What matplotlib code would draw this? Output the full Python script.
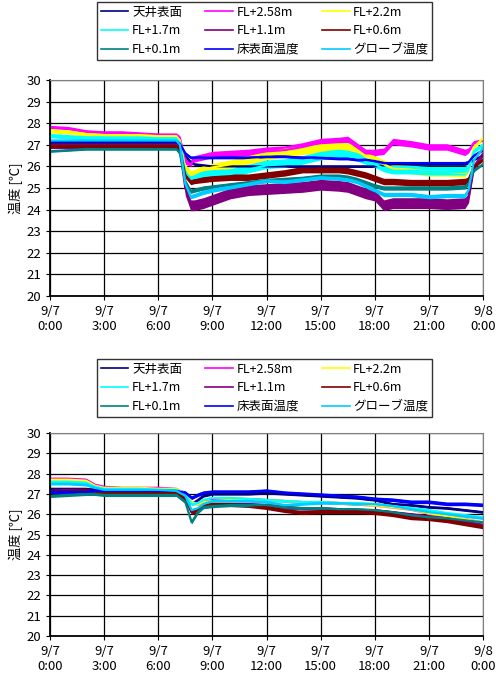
import matplotlib
matplotlib.use("Agg")
import matplotlib.pyplot as plt
import numpy as np

plt.rcParams['font.family'] = ['Noto Sans CJK JP', 'DejaVu Sans']

# 系列名と色
labels = ["天井表面", "FL+2.58m", "FL+2.2m", "FL+1.7m", "FL+1.1m",
          "FL+0.6m", "FL+0.1m", "床表面温度", "グローブ温度"]
colors = ["#000080", "#FF00FF", "#FFFF00", "#00FFFF", "#800080",
          "#800000", "#008080", "#0000FF", "#00CCFF"]

# 上段 (時刻[h])
t_top = [0, 1, 2, 3, 4, 5, 6, 7, 7.2, 7.5, 7.8, 8, 8.5, 9, 10, 11, 12, 13, 14,
         15, 16, 16.5, 17, 17.5, 18, 18.5, 19, 20, 21, 22, 23, 23.2, 23.5, 24]
top_ceiling = [27.1, 27.1, 27.1, 27.1, 27.1, 27.1, 27.1, 27.1, 27.0, 26.5, 26.2, 26.1, 26.05, 26.0, 26.0, 26.0, 26.0,
               26.0, 26.0, 26.0, 26.0, 26.0, 26.0, 26.0, 26.0, 26.05, 26.1, 26.1, 26.1, 26.1, 26.1, 26.15, 26.3, 26.5]
top_258 = [27.8, 27.75, 27.6, 27.55, 27.55, 27.5, 27.45, 27.45, 27.3, 26.2, 26.1, 26.3, 26.4, 26.5, 26.55, 26.6, 26.7,
           26.75, 26.9, 27.1, 27.15, 27.2, 26.9, 26.6, 26.6, 26.65, 27.1, 27.0, 26.85, 26.85, 26.6, 26.7, 27.1, 27.2]
top_22 = [27.65, 27.6, 27.5, 27.45, 27.45, 27.45, 27.4, 27.4, 27.2, 25.9, 25.6, 25.65, 25.85, 25.95, 26.1, 26.3, 26.5,
          26.65, 26.75, 26.85, 26.9, 26.9, 26.75, 26.45, 26.3, 26.1, 25.9, 25.85, 25.75, 25.75, 25.7, 25.9, 26.9, 27.3]
top_17 = [27.4, 27.35, 27.3, 27.3, 27.3, 27.3, 27.3, 27.3, 27.1, 25.7, 25.4, 25.45, 25.55, 25.6, 25.65, 25.85, 26.05,
          26.1, 26.25, 26.45, 26.55, 26.5, 26.4, 26.25, 26.1, 25.9, 25.8, 25.8, 25.75, 25.75, 25.75, 25.9, 26.7, 27.0]
top_11 = [27.0, 27.0, 27.0, 27.0, 27.0, 27.0, 27.0, 27.0, 26.8, 25.0, 24.3, 24.3, 24.4, 24.55, 24.85, 25.0, 25.05,
          25.1, 25.15, 25.25, 25.2, 25.15, 25.0, 24.85, 24.75, 24.3, 24.4, 24.4, 24.4, 24.35, 24.4, 24.6, 26.0, 26.6]
top_06 = [26.95, 26.95, 26.95, 26.95, 26.95, 26.95, 26.95, 26.95, 26.8, 25.6, 25.3, 25.35, 25.4, 25.45, 25.5, 25.5, 25.6,
          25.7, 25.85, 25.85, 25.85, 25.8, 25.7, 25.6, 25.45, 25.3, 25.3, 25.25, 25.25, 25.25, 25.3, 25.4, 26.0, 26.3]
top_01 = [26.7, 26.75, 26.8, 26.8, 26.8, 26.8, 26.8, 26.8, 26.6, 25.3, 24.85, 24.9, 25.0, 25.05, 25.15, 25.25, 25.35,
          25.4, 25.45, 25.55, 25.55, 25.5, 25.4, 25.25, 25.1, 25.0, 25.0, 25.0, 25.0, 25.0, 25.05, 25.2, 25.8, 26.1]
top_floor = [27.15, 27.15, 27.15, 27.15, 27.15, 27.15, 27.15, 27.15, 27.05, 26.6, 26.4, 26.4, 26.4, 26.4, 26.4, 26.4, 26.45,
             26.45, 26.4, 26.4, 26.35, 26.35, 26.3, 26.3, 26.25, 26.15, 26.15, 26.15, 26.15, 26.15, 26.15, 26.2, 26.5, 26.75]
top_globe = [27.2, 27.2, 27.2, 27.2, 27.2, 27.2, 27.2, 27.2, 27.0, 25.2, 24.6, 24.65, 24.8, 24.9, 25.05, 25.2, 25.35,
             25.3, 25.4, 25.5, 25.45, 25.4, 25.3, 25.1, 24.9, 24.7, 24.7, 24.7, 24.6, 24.65, 24.65, 24.9, 26.3, 26.85]
# ばらつき幅 (上側, 下側) と時間帯ごとの係数
top_noise_up = [0.05, 0.2, 0.2, 0.25, 0.15, 0.15, 0.1, 0.08, 0.1]
top_noise_dn = [0.05, 0.1, 0.2, 0.15, 0.35, 0.15, 0.1, 0.05, 0.1]
top_spread = [0.5, 0.5, 0.5, 0.5, 0.5, 0.5, 0.5, 0.5, 0.6, 1, 1, 1, 1, 1, 1, 1, 1,
              1, 1, 1, 1, 1, 1, 1, 1, 1, 1, 1, 1, 1, 1, 0.8, 0.5, 0.4]

# 下段
t_bot = [0, 1, 2, 2.5, 3, 4, 5, 6, 7, 7.5, 7.85, 8.2, 8.5, 9, 10, 11, 12, 13, 14,
         15, 16, 17, 18, 19, 20, 21, 22, 23, 24]
bot_ceiling = [27.25, 27.25, 27.25, 27.2, 27.2, 27.2, 27.2, 27.2, 27.15, 27.0, 26.5, 26.7, 26.9, 27.0, 27.0,
               27.0, 27.05, 27.0, 26.95, 26.9, 26.85, 26.8, 26.7, 26.5, 26.45, 26.35, 26.3, 26.2, 26.1]
bot_258 = [27.75, 27.75, 27.7, 27.45, 27.35, 27.3, 27.3, 27.3, 27.25, 27.0, 26.6, 26.5, 26.6, 26.7, 26.75,
           26.75, 26.7, 26.65, 26.6, 26.6, 26.55, 26.5, 26.45, 26.35, 26.25, 26.05, 25.9, 25.75, 25.6]
bot_22 = [27.7, 27.7, 27.65, 27.4, 27.3, 27.3, 27.3, 27.25, 27.25, 27.0, 26.6, 26.5, 26.6, 26.65, 26.7,
          26.7, 26.7, 26.65, 26.6, 26.6, 26.55, 26.5, 26.45, 26.35, 26.25, 26.05, 25.9, 25.75, 25.6]
bot_17 = [27.6, 27.6, 27.55, 27.35, 27.25, 27.25, 27.25, 27.2, 27.2, 27.0, 26.5, 26.55, 26.7, 26.8, 26.8,
          26.75, 26.7, 26.65, 26.6, 26.6, 26.55, 26.55, 26.5, 26.4, 26.3, 26.2, 26.05, 25.95, 25.85]
bot_11 = [27.15, 27.2, 27.2, 27.1, 27.05, 27.05, 27.05, 27.05, 27.05, 26.8, 26.1, 26.2, 26.4, 26.5, 26.5,
          26.5, 26.45, 26.35, 26.3, 26.3, 26.25, 26.2, 26.2, 26.1, 26.0, 25.9, 25.8, 25.65, 25.45]
bot_06 = [27.15, 27.15, 27.2, 27.1, 27.05, 27.05, 27.05, 27.05, 27.05, 26.8, 26.1, 26.2, 26.4, 26.5, 26.5,
          26.45, 26.35, 26.2, 26.1, 26.15, 26.15, 26.15, 26.1, 26.0, 25.85, 25.8, 25.7, 25.55, 25.4]
bot_01 = [26.9, 26.95, 27.0, 27.0, 26.95, 26.95, 26.95, 26.95, 26.95, 26.6, 25.6, 26.1, 26.35, 26.4, 26.45,
          26.45, 26.45, 26.35, 26.3, 26.3, 26.25, 26.25, 26.2, 26.1, 25.95, 25.85, 25.8, 25.7, 25.6]
bot_floor = [27.1, 27.1, 27.1, 27.15, 27.15, 27.15, 27.15, 27.15, 27.15, 27.05, 26.8, 26.95, 27.05, 27.1, 27.1,
             27.1, 27.15, 27.05, 27.0, 26.95, 26.9, 26.85, 26.75, 26.7, 26.6, 26.6, 26.5, 26.5, 26.45]
bot_globe = [27.5, 27.5, 27.45, 27.3, 27.2, 27.2, 27.2, 27.2, 27.15, 26.9, 26.2, 26.3, 26.5, 26.65, 26.65,
             26.65, 26.6, 26.45, 26.5, 26.55, 26.55, 26.5, 26.5, 26.4, 26.25, 26.1, 26.0, 25.9, 25.8]
bot_noise_up = [0.06, 0.06, 0.06, 0.07, 0.06, 0.06, 0.06, 0.1, 0.06]
bot_noise_dn = [0.06, 0.06, 0.06, 0.07, 0.1, 0.12, 0.08, 0.08, 0.06]
bot_spread = [1] * len(t_bot)

top_series = [top_ceiling, top_258, top_22, top_17, top_11, top_06, top_01, top_floor, top_globe]
bot_series = [bot_ceiling, bot_258, bot_22, bot_17, bot_11, bot_06, bot_01, bot_floor, bot_globe]

xticks = [0, 3, 6, 9, 12, 15, 18, 21, 24]
xticklabels = ["9/7\n0:00", "9/7\n3:00", "9/7\n6:00", "9/7\n9:00", "9/7\n12:00",
               "9/7\n15:00", "9/7\n18:00", "9/7\n21:00", "9/8\n0:00"]

fig = plt.figure(figsize=(4.96, 6.75), dpi=100)
ax1 = fig.add_axes([50/496, 1-296/675, 433/496, 216/675])
ax2 = fig.add_axes([50/496, 1-636/675, 433/496, 203/675])


def draw(ax, t, series, nup, ndn, spread):
    handles = []
    sp = np.array(spread)
    for vals, c, lab, u, d in zip(series, colors, labels, nup, ndn):
        v = np.array(vals)
        ax.fill_between(t, v - d * sp, v + u * sp, color=c, lw=0)
        h, = ax.plot(t, v, color=c, lw=1.6, label=lab)
        handles.append(h)
    ax.set_xlim(0, 24)
    ax.set_ylim(20, 30)
    ax.set_xticks(xticks)
    ax.set_xticklabels(xticklabels)
    ax.set_yticks(range(20, 31))
    ax.grid(color="black", lw=0.9)
    ax.set_axisbelow(True)
    ax.tick_params(labelsize=9.5, length=3, direction="out")
    ax.set_ylabel("温度 [℃]", fontsize=9.5, labelpad=2)
    for s in ["left", "bottom"]:
        ax.spines[s].set_color("black")
        ax.spines[s].set_linewidth(1.3)
    for s in ["top", "right"]:
        ax.spines[s].set_color("#808080")
    return handles


order = [0, 3, 6, 1, 4, 7, 2, 5, 8]
for ax, t, ser, nu, nd, sp, ytop in [(ax1, t_top, top_series, top_noise_up, top_noise_dn, top_spread, 2),
                                     (ax2, t_bot, bot_series, bot_noise_up, bot_noise_dn, bot_spread, 359)]:
    hs = draw(ax, t, ser, nu, nd, sp)
    leg = fig.legend([hs[i] for i in order], [labels[i] for i in order],
                     loc="upper left", bbox_to_anchor=(97/496, 1-ytop/675),
                     ncol=3, fontsize=9, frameon=True, fancybox=False,
                     edgecolor="black", borderaxespad=0, handlelength=2.2,
                     handletextpad=0.3, columnspacing=1.85, labelspacing=0.45,
                     borderpad=0.3)
    leg.get_frame().set_linewidth(1.0)
    for line in leg.get_lines():
        line.set_linewidth(1.2)

fig.savefig("out.png", dpi=100)
